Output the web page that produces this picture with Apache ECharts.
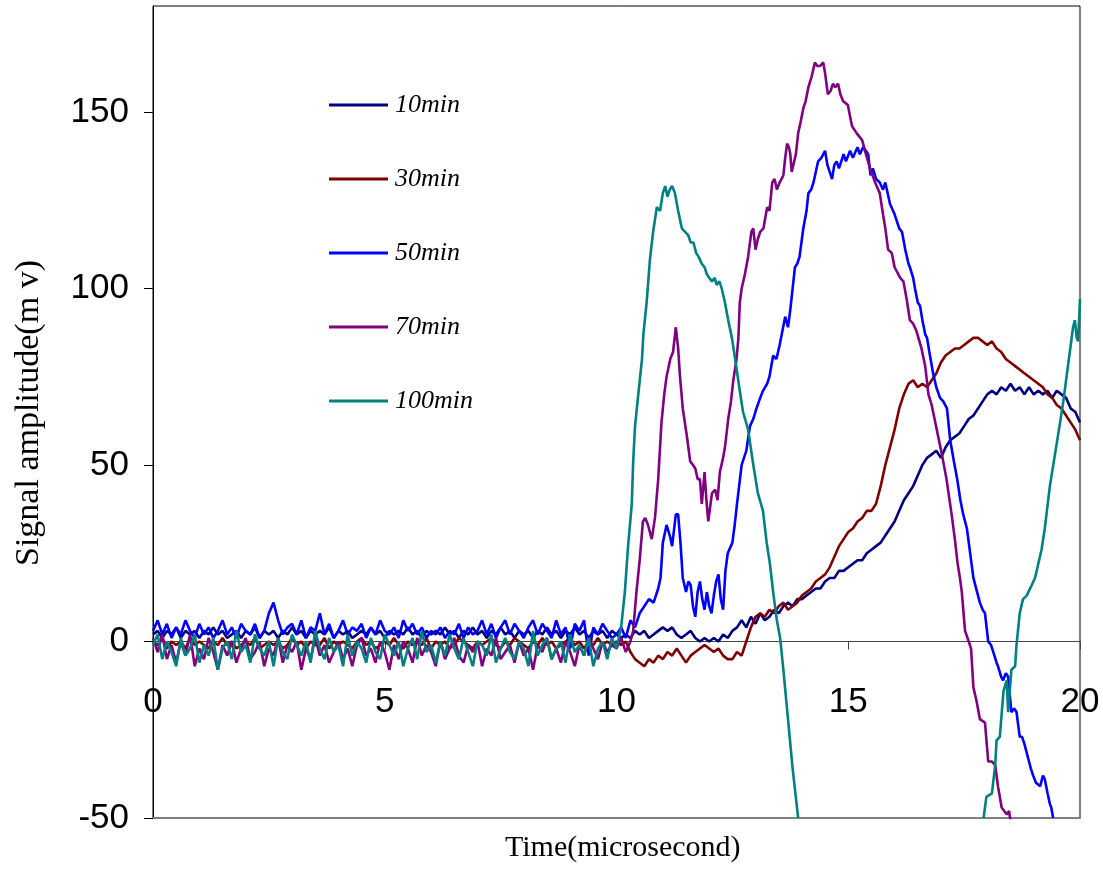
<!DOCTYPE html>
<html>
<head>
<meta charset="utf-8">
<script src="https://cdn.jsdelivr.net/npm/echarts@6/dist/echarts.min.js"></script>
<style>
html,body{margin:0;padding:0;background:#fff;}
#chart{width:1103px;height:870px;}
</style>
</head>
<body>
<div id="chart"></div>
<script>
// ---------- data (time in microseconds, amplitude in mV) ----------
const seriesNames = ['10min', '30min', '50min', '70min', '100min'];
const xTicks = [0, 5, 10, 15, 20];
const yTicks = [-50, 0, 50, 100, 150];

const d10 = [[0,2],[0.1,3],[0.2,1],[0.3,3],[0.4,2],[0.5,4],[0.6,1],[0.7,3],[0.8,2],[0.9,3],[1,1],[1.1,3],[1.2,2],[1.3,4],[1.4,2],[1.5,3],[1.6,1],[1.7,2],[1.8,3],[1.9,1],[2,3],[2.1,2],[2.2,4],[2.3,1],[2.4,3],[2.5,2],[2.6,3],[2.7,1],[2.8,3],[2.9,2],[3,4],[3.1,2],[3.2,3],[3.3,1],[3.4,3],[3.5,2],[3.6,3],[3.7,2],[3.8,4],[3.9,1],[4,3],[4.1,2],[4.2,3],[4.3,1],[4.4,2],[4.5,3],[4.6,2],[4.7,4],[4.8,2],[4.9,3],[5,1],[5.1,3],[5.2,2],[5.3,3],[5.4,2],[5.5,4],[5.6,2],[5.7,3],[5.8,1],[5.9,3],[6,2],[6.1,3],[6.2,2],[6.3,4],[6.4,2],[6.5,3],[6.6,1],[6.7,3],[6.8,2],[6.9,4],[7,2],[7.1,3],[7.2,1],[7.3,3],[7.4,2],[7.5,4],[7.6,2],[7.7,3],[7.8,1],[7.9,3],[8,2],[8.1,3],[8.2,1],[8.3,3],[8.4,2],[8.5,4],[8.6,2],[8.7,3],[8.8,1],[8.9,3],[9,2],[9.1,4],[9.2,2],[9.3,3],[9.4,1],[9.5,3],[9.6,2],[9.7,3],[9.8,1],[9.9,3],
[10,2],[10.1,1],[10.2,2],[10.3,1],[10.4,3],[10.5,2],[10.6,3],[10.7,1],[10.8,2],[10.9,3],[11,4],[11.1,3],[11.2,4],[11.3,2],[11.4,1],[11.5,2],[11.6,3],[11.7,1],[11.8,0],[11.9,1],[12,0],[12.1,1],[12.2,0],[12.3,2],[12.4,1],[12.5,3],[12.6,4],[12.7,6],[12.8,4],[12.9,7],[13,5],[13.1,8],[13.2,6],[13.3,7],[13.4,9],[13.5,8],[13.6,10],[13.7,11],[13.8,10],[13.9,12],[14,12],[14.1,13],[14.2,14],[14.3,15],[14.4,15],[14.5,17],[14.6,18],[14.7,18],[14.8,20],[14.9,20],[15,21],[15.1,22],[15.2,23],[15.3,23],[15.4,25],[15.5,26],[15.6,27],[15.7,28],[15.8,30],[15.9,32],[16,34],[16.1,37],[16.2,40],[16.3,42],[16.4,44],[16.5,47],[16.6,50],[16.7,52],[16.8,53],[16.9,54],[17,52],[17.1,55],[17.2,57],[17.3,58],[17.4,59],[17.5,61],[17.6,63],[17.7,64],[17.8,66],[17.9,68],[18,70],[18.1,71],[18.2,70],[18.3,72],[18.4,71],[18.5,73],[18.6,71],[18.7,72],[18.8,70],[18.9,72],[19,70],[19.1,71],[19.2,70],[19.3,71],[19.4,69],[19.5,71],[19.6,70],[19.7,69],[19.8,66],[19.9,65],[20,62]];

const d30 = [[0,0],[0.1,-1],[0.2,1],[0.3,-2],[0.4,0],[0.5,-1],[0.6,0],[0.7,-2],[0.8,1],[0.9,-1],[1,0],[1.1,-1],[1.2,-2],[1.3,0],[1.4,-1],[1.5,1],[1.6,-1],[1.7,0],[1.8,-2],[1.9,-1],[2,0],[2.1,-1],[2.2,1],[2.3,-2],[2.4,-1],[2.5,0],[2.6,-1],[2.7,0],[2.8,-2],[2.9,-1],[3,1],[3.1,-1],[3.2,0],[3.3,-2],[3.4,0],[3.5,-1],[3.6,-1],[3.7,1],[3.8,-2],[3.9,0],[4,-1],[4.1,0],[4.2,-1],[4.3,-2],[4.4,0],[4.5,1],[4.6,-1],[4.7,0],[4.8,-2],[4.9,-1],[5,0],[5.1,-1],[5.2,1],[5.3,-1],[5.4,-2],[5.5,0],[5.6,-1],[5.7,0],[5.8,-1],[5.9,1],[6,-2],[6.1,0],[6.2,-1],[6.3,0],[6.4,-2],[6.5,-1],[6.6,1],[6.7,0],[6.8,-1],[6.9,-2],[7,0],[7.1,-1],[7.2,0],[7.3,1],[7.4,-1],[7.5,-2],[7.6,0],[7.7,-1],[7.8,1],[7.9,0],[8,-1],[8.1,-2],[8.2,0],[8.3,-1],[8.4,1],[8.5,-1],[8.6,0],[8.7,-2],[8.8,-1],[8.9,0],[9,1],[9.1,-1],[9.2,0],[9.3,-2],[9.4,0],[9.5,-1],[9.6,1],[9.7,-1],[9.8,0],[9.9,-1],
[10,0],[10.1,-1],[10.2,0],[10.3,-3],[10.4,-5],[10.5,-6],[10.6,-7],[10.7,-5],[10.8,-6],[10.9,-4],[11,-5],[11.1,-3],[11.2,-4],[11.3,-2],[11.4,-4],[11.5,-6],[11.6,-4],[11.7,-3],[11.8,-2],[11.9,-1],[12,-2],[12.1,-3],[12.2,-2],[12.3,-4],[12.4,-5],[12.5,-5],[12.6,-3],[12.7,-4],[12.8,0],[12.9,4],[13,7],[13.1,8],[13.2,7],[13.3,9],[13.4,8],[13.5,10],[13.6,11],[13.7,9],[13.8,10],[13.9,11],[14,13],[14.1,14],[14.2,15],[14.3,17],[14.4,18],[14.5,19],[14.6,21],[14.7,24],[14.8,27],[14.9,29],[15,31],[15.1,32],[15.2,34],[15.3,35],[15.4,37],[15.5,37],[15.6,39],[15.7,44],[15.8,50],[15.9,55],[16,60],[16.1,66],[16.2,70],[16.3,73],[16.4,74],[16.5,72],[16.6,73],[16.7,72],[16.8,74],[16.9,76],[17,79],[17.1,81],[17.2,82],[17.3,83],[17.4,83],[17.5,84],[17.6,85],[17.7,86],[17.8,86],[17.9,85],[18,84],[18.1,85],[18.2,83],[18.3,82],[18.4,80],[18.5,79],[18.6,78],[18.7,77],[18.8,76],[18.9,75],[19,74],[19.1,73],[19.2,72],[19.3,70],[19.4,69],[19.5,67],[19.6,66],[19.7,64],[19.8,62],[19.9,60],[20,57]];

const d50 = [[0,3],[0.1,6],[0.2,2],[0.3,5],[0.4,1],[0.5,4],[0.6,2],[0.7,6],[0.8,3],[0.9,1],[1,5],[1.1,2],[1.2,4],[1.3,1],[1.4,3],[1.5,6],[1.6,2],[1.7,4],[1.8,1],[1.9,5],[2,3],[2.1,2],[2.2,5],[2.3,1],[2.4,3],[2.5,8],[2.6,11],[2.7,6],[2.8,2],[2.9,4],[3,5],[3.1,2],[3.2,6],[3.3,1],[3.4,4],[3.5,3],[3.6,8],[3.7,2],[3.8,5],[3.9,1],[4,3],[4.1,6],[4.2,2],[4.3,4],[4.4,3],[4.5,5],[4.6,1],[4.7,4],[4.8,2],[4.9,6],[5,3],[5.1,2],[5.2,4],[5.3,1],[5.4,6],[5.5,3],[5.6,5],[5.7,2],[5.8,4],[5.9,1],[6,3],[6.1,2],[6.2,4],[6.3,1],[6.4,3],[6.5,2],[6.6,5],[6.7,1],[6.8,4],[6.9,2],[7,3],[7.1,6],[7.2,2],[7.3,5],[7.4,1],[7.5,4],[7.6,6],[7.7,2],[7.8,5],[7.9,3],[8,1],[8.1,4],[8.2,6],[8.3,2],[8.4,5],[8.5,3],[8.6,1],[8.7,6],[8.8,2],[8.9,4],[9,-2],[9.1,5],[9.2,3],[9.3,6],[9.4,-4],[9.5,4],[9.6,2],[9.7,5],[9.8,3],[9.9,1],
[10,2],[10.1,4],[10.2,1],[10.3,6],[10.4,4],[10.45,6],[10.5,8],[10.6,10],[10.7,12],[10.8,11],[10.9,15],[10.95,18],[11,28],[11.08,33],[11.15,30],[11.2,27],[11.28,36],[11.33,36],[11.38,28],[11.43,18],[11.5,14],[11.55,17],[11.6,16],[11.65,10],[11.7,7],[11.75,14],[11.8,17],[11.85,12],[11.9,9],[11.95,14],[12,10],[12.05,8],[12.1,13],[12.15,17],[12.2,19],[12.25,12],[12.3,9],[12.35,20],[12.4,25],[12.5,28],[12.55,33],[12.6,39],[12.7,50],[12.8,54],[12.88,61],[12.95,63],[13.02,66],[13.1,69],[13.16,71],[13.25,73],[13.3,75],[13.38,81],[13.45,80],[13.52,84],[13.58,88],[13.64,92],[13.7,89],[13.75,94],[13.8,100],[13.85,106],[13.9,107],[13.95,109],[14.03,117],[14.1,122],[14.14,127],[14.2,128],[14.25,130],[14.3,133],[14.35,136],[14.42,137],[14.5,139],[14.55,135],[14.6,133],[14.65,131],[14.7,135],[14.75,136],[14.8,134],[14.9,138],[14.95,136],[15.04,139],[15.1,137],[15.2,140],[15.25,138],[15.32,140],[15.38,139],[15.43,138],[15.48,132],[15.53,134],[15.6,131],[15.68,130],[15.75,128],[15.8,130],[15.9,124],[16,121],[16.05,119],[16.1,117],[16.16,116],[16.23,111],[16.3,107],[16.33,106],[16.4,103],[16.44,100],[16.5,96],[16.55,95],[16.6,91],[16.66,87],[16.7,86],[16.75,82],[16.83,76],[16.9,72],[16.98,69],[17.05,68],[17.13,66],[17.2,57],[17.28,51],[17.35,46],[17.42,40],[17.48,36],[17.56,32],[17.62,26],[17.7,18],[17.78,14],[17.84,11],[17.9,9],[17.95,8],[18.02,0],[18.08,-1],[18.13,-3],[18.2,-6],[18.23,-7],[18.3,-10],[18.34,-11],[18.4,-9],[18.45,-10],[18.52,-20],[18.58,-19],[18.63,-20],[18.7,-27],[18.75,-27],[18.8,-29],[18.88,-33],[18.94,-36],[18.99,-38],[19.05,-40],[19.14,-41],[19.2,-38],[19.24,-39],[19.3,-43],[19.35,-46],[19.38,-47],[19.42,-50]];

const d70 = [[0,1],[0.1,-3],[0.2,2],[0.3,-5],[0.4,-1],[0.5,-6],[0.6,0],[0.7,-4],[0.8,2],[0.9,-7],[1,-2],[1.1,-5],[1.2,1],[1.3,-3],[1.4,-8],[1.5,-1],[1.6,-4],[1.7,0],[1.8,-6],[1.9,-2],[2,1],[2.1,-5],[2.2,-3],[2.3,0],[2.4,-7],[2.5,-2],[2.6,-4],[2.7,1],[2.8,-6],[2.9,-1],[3,-3],[3.1,0],[3.2,-8],[3.3,-2],[3.4,-5],[3.5,1],[3.6,-4],[3.7,-1],[3.8,-6],[3.9,-3],[4,0],[4.1,-5],[4.2,-2],[4.3,-7],[4.4,-1],[4.5,1],[4.6,-4],[4.7,-2],[4.8,-6],[4.9,0],[5,-3],[5.1,-8],[5.2,-1],[5.3,-5],[5.4,0],[5.5,-2],[5.6,-6],[5.7,1],[5.8,-4],[5.9,-1],[6,-3],[6.1,-7],[6.2,0],[6.3,-5],[6.4,-2],[6.5,1],[6.6,-4],[6.7,-6],[6.8,-1],[6.9,-3],[7,0],[7.1,-7],[7.2,-2],[7.3,-4],[7.4,1],[7.5,-5],[7.6,-3],[7.7,-1],[7.8,-6],[7.9,0],[8,-4],[8.1,-2],[8.2,-8],[8.3,-1],[8.4,-3],[8.5,1],[8.6,-5],[8.7,-2],[8.8,-6],[8.9,0],[9,-3],[9.1,-7],[9.2,-1],[9.3,-4],[9.4,1],[9.5,-2],[9.6,-5],[9.7,0],[9.8,-3],[9.9,-1],
[10,-2],[10.1,1],[10.2,-3],[10.3,0],[10.36,3],[10.43,14],[10.5,23],[10.57,34],[10.62,35],[10.68,33],[10.76,29],[10.83,35],[10.9,46],[10.97,62],[11.03,70],[11.08,75],[11.16,80],[11.22,82],[11.28,89],[11.33,83],[11.37,75],[11.43,66],[11.52,58],[11.59,51],[11.65,50],[11.7,49],[11.75,46],[11.8,46],[11.84,39],[11.9,48],[11.94,40],[11.98,34],[12.06,42],[12.13,43],[12.18,40],[12.23,48],[12.3,52],[12.34,55],[12.41,63],[12.47,68],[12.52,74],[12.59,80],[12.63,86],[12.66,96],[12.7,100],[12.77,104],[12.84,109],[12.91,116],[12.95,117],[13,111],[13.05,114],[13.1,116],[13.17,117],[13.25,123],[13.3,122],[13.36,130],[13.41,131],[13.46,128],[13.52,130],[13.6,132],[13.64,137],[13.68,141],[13.72,140],[13.75,138],[13.78,133],[13.82,133],[13.87,138],[13.92,144],[13.97,147],[14.03,151],[14.08,153],[14.14,157],[14.21,160],[14.28,164],[14.33,163],[14.39,163],[14.46,164],[14.5,161],[14.56,155],[14.62,156],[14.67,158],[14.72,157],[14.78,158],[14.83,155],[14.89,153],[14.99,152],[15.08,146],[15.18,144],[15.3,142],[15.36,139],[15.47,134],[15.58,130],[15.68,127],[15.75,121],[15.8,117],[15.86,111],[15.94,110],[16,106],[16.12,103],[16.19,102],[16.26,97],[16.33,91],[16.4,90],[16.47,88],[16.58,83],[16.66,78],[16.73,70],[16.8,67],[16.91,60],[17.02,53],[17.12,46],[17.23,36],[17.3,29],[17.36,22],[17.41,18],[17.45,14],[17.52,3],[17.6,0],[17.65,-2],[17.7,-13],[17.77,-17],[17.84,-22],[17.95,-23],[18.02,-34],[18.1,-34],[18.17,-35],[18.23,-41],[18.31,-47],[18.42,-49],[18.47,-48],[18.5,-51]];

const d100 = [[0,-1],[0.1,2],[0.2,-5],[0.3,0],[0.4,-3],[0.5,-7],[0.6,1],[0.7,-4],[0.8,-2],[0.9,2],[1,-6],[1.1,-1],[1.2,-4],[1.3,1],[1.4,-8],[1.5,-2],[1.6,0],[1.7,-5],[1.8,3],[1.9,-3],[2,-1],[2.1,-6],[2.2,2],[2.3,-2],[2.4,-4],[2.5,0],[2.6,-7],[2.7,1],[2.8,-3],[2.9,-5],[3,2],[3.1,-1],[3.2,-4],[3.3,0],[3.4,-6],[3.5,3],[3.6,-2],[3.7,-5],[3.8,1],[3.9,-3],[4,-1],[4.1,-7],[4.2,2],[4.3,-4],[4.4,0],[4.5,-2],[4.6,-6],[4.7,1],[4.8,-3],[4.9,-5],[5,2],[5.1,-1],[5.2,-4],[5.3,0],[5.4,-7],[5.5,-2],[5.6,1],[5.7,-5],[5.8,3],[5.9,-3],[6,-1],[6.1,-6],[6.2,0],[6.3,-4],[6.4,2],[6.5,-2],[6.6,-5],[6.7,1],[6.8,-3],[6.9,-7],[7,0],[7.1,-1],[7.2,-4],[7.3,2],[7.4,-6],[7.5,-2],[7.6,1],[7.7,-3],[7.8,-5],[7.9,0],[8,-2],[8.1,-7],[8.2,3],[8.3,-4],[8.4,-1],[8.5,1],[8.6,-5],[8.7,-2],[8.8,0],[8.9,-6],[9,2],[9.1,-3],[9.2,-1],[9.3,-4],[9.4,1],[9.5,-7],[9.6,-2],[9.7,0],[9.8,-5],[9.9,1],
[10,-2],[10.05,1],[10.1,4],[10.18,14],[10.25,27],[10.33,39],[10.36,51],[10.4,61],[10.47,70],[10.55,80],[10.58,87],[10.65,96],[10.72,108],[10.79,116],[10.87,123],[10.94,122],[11,127],[11.05,129],[11.1,126],[11.15,128],[11.2,129],[11.26,127],[11.33,122],[11.41,117],[11.48,116],[11.55,115],[11.6,113],[11.66,113],[11.72,110],[11.77,109],[11.84,107],[11.9,106],[11.95,104],[12,103],[12.06,102],[12.12,103],[12.16,101],[12.22,102],[12.27,100],[12.34,96],[12.41,91],[12.49,86],[12.56,80],[12.66,71],[12.73,65],[12.84,60],[12.94,51],[13.05,42],[13.16,37],[13.24,28],[13.31,22],[13.38,14],[13.46,6],[13.53,1],[13.6,-8],[13.7,-22],[13.8,-36],[13.92,-50],
[15.9,'-'],
[17.92,-50],[17.98,-44],[18.1,-43],[18.17,-35],[18.2,-28],[18.27,-27],[18.35,-14],[18.42,-11],[18.45,-20],[18.52,-8],[18.6,-7],[18.63,-1],[18.7,8],[18.77,12],[18.85,13],[18.96,16],[19.03,18],[19.1,22],[19.17,26],[19.24,32],[19.35,44],[19.46,53],[19.57,62],[19.64,68],[19.71,75],[19.78,82],[19.85,89],[19.89,91],[19.93,86],[19.96,85],[20,97]];

const seriesData = [d10, d30, d50, d70, d100];
const seriesColors = ['#000080', '#800000', '#0000FF', '#800080', '#008080'];

// ---------- chart ----------
const chart = echarts.init(document.getElementById('chart'), null, {renderer: 'canvas'});
const tickFont = '"Liberation Sans", Arial, sans-serif';
const serif = '"Liberation Serif", "Times New Roman", serif';
const Y_MIN = -50, Y_MAX = 180;
const GRID = {left: 153, right: 23, top: 6, bottom: 52};
const plotH = 870 - GRID.top - GRID.bottom;
// offset that moves a bottom axis up onto the y = 0 line
const zeroOffset = -plotH * (0 - Y_MIN) / (Y_MAX - Y_MIN);

const option = {
  animation: false,
  backgroundColor: '#ffffff',
  grid: Object.assign({show: true, borderColor: '#000', borderWidth: 1, containLabel: false, outerBoundsMode: 'none'}, GRID),
  legend: {
    data: seriesNames,
    orient: 'vertical',
    left: 329, top: 92,
    padding: 0,
    icon: 'rect',
    itemWidth: 59, itemHeight: 3,
    itemGap: 48,
    selectedMode: false,
    textStyle: {fontFamily: serif, fontStyle: 'italic', fontSize: 26, lineHeight: 26, color: '#000', padding: [0,0,0,2]}
  },
  xAxis: [{
    type: 'value', min: 0, max: 20, interval: 5,
    axisLine: {onZero: true, lineStyle: {color: '#444', width: 1}},
    axisTick: {show: false}, axisLabel: {show: false},
    splitLine: {show: false}
  }, {
    type: 'value', min: 0, max: 20, position: 'bottom',
    axisLine: {onZero: false, lineStyle: {color: '#808080', width: 2}},
    axisTick: {show: false}, axisLabel: {show: false}, splitLine: {show: false}
  }, {
    type: 'value', min: 0, max: 20, interval: 5, position: 'bottom', offset: zeroOffset,
    axisLine: {show: false, onZero: false},
    axisTick: {show: true, length: 8, lineStyle: {color: '#444', width: 1}, customValues: xTicks},
    axisLabel: {margin: 43, fontFamily: tickFont, fontSize: 35, color: '#000', customValues: xTicks},
    splitLine: {show: false}
  }],
  yAxis: {
    type: 'value', min: Y_MIN, max: Y_MAX, interval: 50,
    axisLine: {show: true, onZero: false, lineStyle: {color: '#000', width: 1}},
    axisTick: {show: true, length: 9, lineStyle: {color: '#000', width: 1}, customValues: yTicks},
    axisLabel: {margin: 24, fontFamily: tickFont, fontSize: 35, color: '#000', customValues: yTicks},
    splitLine: {show: false}
  },
  graphic: [
    {type: 'text', top: 833, left: 505, style: {text: 'Time(microsecond)', fontFamily: serif, fontSize: 30, fill: '#000'}},
    {type: 'text', rotation: Math.PI / 2, x: 12, y: 566, style: {text: 'Signal amplitude(m v)', fontFamily: serif, fontSize: 34, fill: '#000', textVerticalAlign: 'top'}}
  ],
  series: seriesData.map((d, i) => ({
    name: seriesNames[i], type: 'line', data: d, xAxisIndex: 0,
    showSymbol: false, symbol: 'none', connectNulls: false,
    lineStyle: {color: seriesColors[i], width: 2.6},
    itemStyle: {color: seriesColors[i]},
    z: 3 + i
  }))
};
chart.setOption(option);
</script>
</body>
</html>
